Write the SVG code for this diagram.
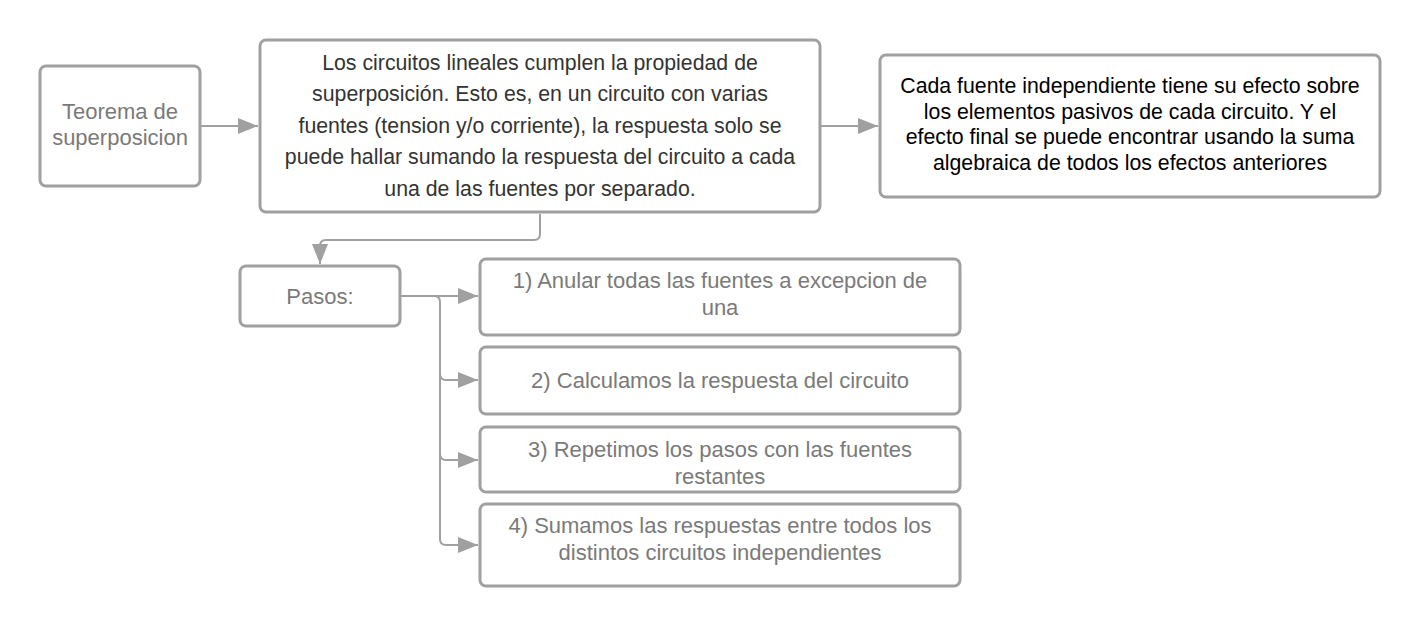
<svg xmlns="http://www.w3.org/2000/svg" width="1420" height="628" viewBox="0 0 1420 628">
<defs>
<style>
.box{fill:#fff;stroke:#a0a0a0;stroke-width:3}
.t{font-family:"Liberation Sans",Arial,sans-serif;font-size:22px;text-anchor:middle}
.m{font-size:21.3px}
.g{fill:#7a7a7a}
.d{fill:#333}
.k{fill:#000}
.c{fill:none;stroke:#a0a0a0;stroke-width:2}
</style>
<marker id="a" viewBox="0 0 20 16" refX="20" refY="8" markerWidth="20" markerHeight="16" markerUnits="userSpaceOnUse" orient="auto"><path d="M0,0 L20,8 L0,16 Z" fill="#a0a0a0"/></marker>
</defs>
<rect width="1420" height="628" fill="#fff"/>
<g id="connectors">
<path class="c" d="M201,126 H258" marker-end="url(#a)"/>
<path class="c" d="M821,126 H878" marker-end="url(#a)"/>
<path class="c" d="M540,214 V234 Q540,240 534,240 H326 Q320,240 320,246 V264" marker-end="url(#a)"/>
<path class="c" d="M401,296 H478" marker-end="url(#a)"/>
<path class="c" d="M401,296 H434 Q440,296 440,302 V374 Q440,380 446,380 H478" marker-end="url(#a)"/>
<path class="c" d="M440,374 V454 Q440,460 446,460 H478" marker-end="url(#a)"/>
<path class="c" d="M440,454 V539 Q440,545 446,545 H478" marker-end="url(#a)"/>
</g>
<g id="n1"><rect class="box" x="40" y="66" width="160" height="120" rx="6"/>
<text class="t g" x="120" y="119">Teorema de</text><text class="t g" x="120" y="145">superposicion</text></g>
<g id="n2"><rect class="box" x="260" y="40" width="560" height="172" rx="6"/>
<text class="t m d" x="540" y="70">Los circuitos lineales cumplen la propiedad de</text>
<text class="t m d" x="540" y="101">superposición. Esto es, en un circuito con varias</text>
<text class="t m d" x="540" y="133">fuentes (tension y/o corriente), la respuesta solo se</text>
<text class="t m d" x="540" y="164">puede hallar sumando la respuesta del circuito a cada</text>
<text class="t m d" x="540" y="196">una de las fuentes por separado.</text></g>
<g id="n3"><rect class="box" x="880" y="55" width="500" height="142" rx="6"/>
<text class="t m k" x="1130" y="93">Cada fuente independiente tiene su efecto sobre</text>
<text class="t m k" x="1130" y="119">los elementos pasivos de cada circuito. Y el</text>
<text class="t m k" x="1130" y="144">efecto final se puede encontrar usando la suma</text>
<text class="t m k" x="1130" y="170">algebraica de todos los efectos anteriores</text></g>
<g id="n4"><rect class="box" x="240" y="266" width="160" height="60" rx="6"/>
<text class="t g" x="320" y="304">Pasos:</text></g>
<g id="s1"><rect class="box" x="480" y="259" width="480" height="76" rx="6"/>
<text class="t g" x="720" y="288">1) Anular todas las fuentes a excepcion de</text>
<text class="t g" x="720" y="315">una</text></g>
<g id="s2"><rect class="box" x="480" y="347" width="480" height="67" rx="6"/>
<text class="t g" x="720" y="388">2) Calculamos la respuesta del circuito</text></g>
<g id="s3"><rect class="box" x="480" y="427" width="480" height="65" rx="6"/>
<text class="t g" x="720" y="457">3) Repetimos los pasos con las fuentes</text>
<text class="t g" x="720" y="484">restantes</text></g>
<g id="s4"><rect class="box" x="480" y="504" width="480" height="82" rx="6"/>
<text class="t g" x="720" y="533">4) Sumamos las respuestas entre todos los</text>
<text class="t g" x="720" y="560">distintos circuitos independientes</text></g>
</svg>
